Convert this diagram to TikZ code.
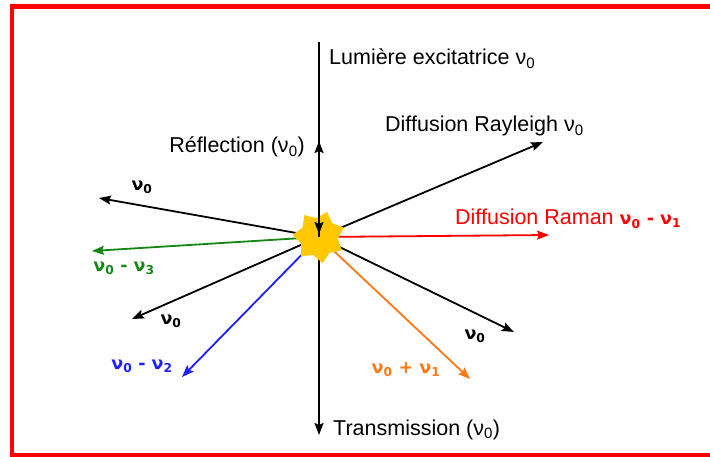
\documentclass[tikz,border=0pt]{standalone}
\usepackage{fontspec}
\setmainfont{Liberation Sans}
\newfontfamily\dv{DejaVu Sans}
\usetikzlibrary{arrows.meta,shapes.geometric}
\definecolor{starC}{RGB}{255,200,0}
\definecolor{orangeC}{RGB}{255,120,20}
\definecolor{greenC}{RGB}{20,135,20}
\definecolor{blueC}{RGB}{30,30,255}
\begin{document}
\begin{tikzpicture}[x=1pt,y=-1pt,
  arr/.style={line width=1.8pt,-{Stealth[length=12pt,width=9pt,inset=2pt]}},
  lbl/.style={font=\fontsize{21.5}{25}\selectfont, inner sep=0pt},
  nu/.style={font=\dv\bfseries\fontsize{17.5}{20}\selectfont, inner sep=0pt},
]
\useasboundingbox (0,0) rectangle (710,457);
\fill[white] (0,0) rectangle (710,457);
\draw[red, line width=4.5pt] (710,6.5) -- (12,6.5) -- (12,455) -- (710,455);

% centre and end points
\coordinate (c) at (319,237);
\coordinate (top) at (319,42);
\coordinate (refl) at (319,141);
\coordinate (trans) at (319,435);
\coordinate (ray) at (543,142);
\coordinate (ram) at (549,235);
\coordinate (lr) at (514,332);
\coordinate (or) at (470,379);
\coordinate (bl) at (182,377);
\coordinate (ll) at (132,319);
\coordinate (gr) at (92,251);
\coordinate (ul) at (99,198);

% scattered rays
\draw[arr] (c) -- (trans);
\draw[arr] (c) -- (ray);
\draw[arr, red] (c) -- (ram);
\draw[arr] (c) -- (lr);
\draw[arr, orangeC] (c) -- (or);
\draw[arr, blueC] (c) -- (bl);
\draw[arr] (c) -- (ll);
\draw[arr, greenC] (c) -- (gr);
\draw[arr] (c) -- (ul);

% impact star
\node[star, star points=7, star point ratio=0.72, minimum size=38pt,
      fill=starC, inner sep=0pt, rotate=8] (s) at (c) {};

% incident and reflected beams
\draw[arr] (c) -- (refl);
\draw[arr, shorten >=3pt] (top) -- (c);

% labels
\node[lbl, anchor=base west] (tl) at (329,65) {Lumière excitatrice ν\textsubscript{0}};
\node[lbl, anchor=base west] (tr) at (385,132) {Diffusion Rayleigh ν\textsubscript{0}};
\node[lbl, anchor=base east] (tf) at (305,153) {Réflection (ν\textsubscript{0})};
\node[lbl, anchor=base west] (tt) at (333,435) {Transmission (ν\textsubscript{0})};
\node[lbl, anchor=base west, text=red] (tm) at (455,225) {Diffusion Raman {\dv\bfseries\fontsize{17.5}{20}\selectfont ν\textsubscript{0} - ν\textsubscript{1}}};
\node[nu] (n1) at (142,187) {ν\textsubscript{0}};
\node[nu, text=greenC] (n2) at (124,268) {ν\textsubscript{0} - ν\textsubscript{3}};
\node[nu] (n3) at (171,321) {ν\textsubscript{0}};
\node[nu, text=blueC] (n4) at (142,366) {ν\textsubscript{0} - ν\textsubscript{2}};
\node[nu, text=orangeC] (n5) at (406,370) {ν\textsubscript{0} + ν\textsubscript{1}};
\node[nu] (n6) at (475,336) {ν\textsubscript{0}};
\end{tikzpicture}
\end{document}
